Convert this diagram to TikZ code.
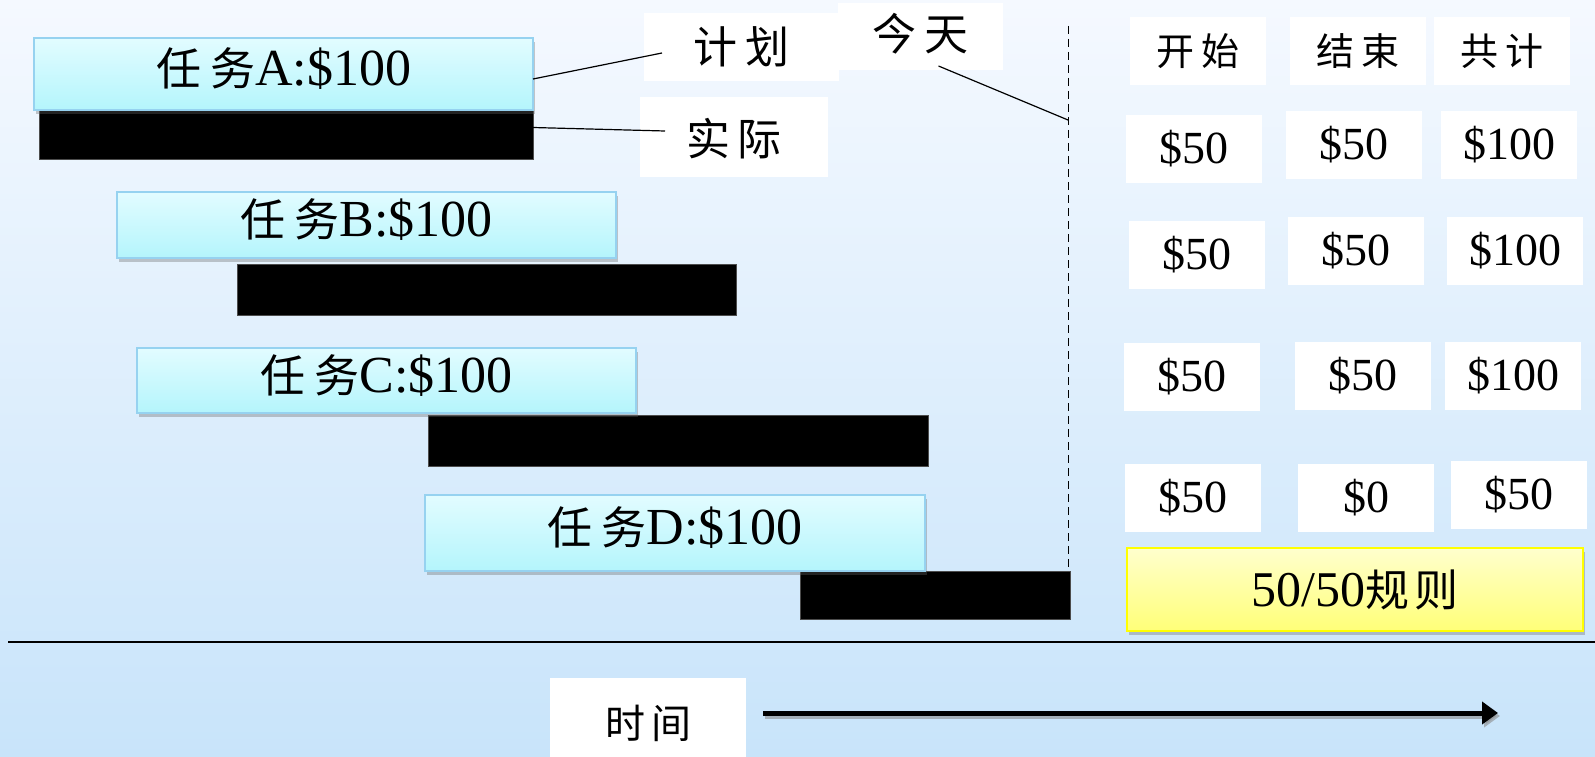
\documentclass[tikz,border=0pt]{standalone}
\usepackage{fontspec}
\setmainfont{Liberation Serif}
\newfontfamily\cjk{Noto Sans CJK SC}
\usetikzlibrary{shadows,arrows.meta}
\definecolor{bgtop}{RGB}{245,249,255}
\definecolor{bgbot}{RGB}{200,228,250}
\definecolor{tasktop}{RGB}{226,252,255}
\definecolor{taskbot}{RGB}{180,245,252}
\definecolor{taskborder}{RGB}{150,210,240}
\definecolor{yeltop}{RGB}{255,255,205}
\definecolor{yelbot}{RGB}{255,255,120}
\definecolor{yelborder}{RGB}{255,255,0}
\newcommand{\rw}{{\cjk\fontsize{45}{50}\selectfont 任\hspace{9pt}务}}
\tikzset{
  myshadow/.style={drop shadow={opacity=0.35,shadow xshift=2pt,shadow yshift=-4pt,fill=black!60}},
  taskbox/.style={draw=taskborder,line width=1.5pt,top color=tasktop,bottom color=taskbot,
    anchor=north west,inner sep=0pt,outer sep=0pt,minimum width=499pt,myshadow,
    text height=36pt,text depth=13pt,
    font=\fontsize{52}{60}\selectfont},
  actbar/.style={fill=black,draw=black!70,line width=0.6pt,anchor=north west,inner sep=0pt,outer sep=0pt,
    minimum height=49pt},
  whitelabel/.style={fill=white,anchor=north west,inner sep=0pt,outer sep=0pt,
    font=\cjk\fontsize{44}{50}\selectfont},
  hdr/.style={fill=white,anchor=north west,inner sep=0pt,outer sep=0pt,minimum width=136pt,minimum height=68pt,
    font=\cjk\fontsize{38}{44}\selectfont},
  cell/.style={fill=white,anchor=north west,inner sep=0pt,outer sep=0pt,minimum width=136pt,minimum height=68pt,
    font=\fontsize{46}{52}\selectfont},
  rulebox/.style={draw=yelborder,line width=2pt,top color=yeltop,bottom color=yelbot,anchor=north west,
    inner sep=0pt,outer sep=0pt,minimum width=456pt,minimum height=83pt,myshadow,
    font=\fontsize{50}{56}\selectfont},
  conn/.style={line width=1.2pt,black},
}
\begin{document}
\begin{tikzpicture}[x=1pt,y=-1pt]
\useasboundingbox (0,0) rectangle (1595,757);
\shade[top color=bgtop,bottom color=bgbot] (0,0) rectangle (1595,757);

% actual bars
\node[actbar,minimum width=494pt] (bA) at (39,110) {};
\node[actbar,minimum width=499pt,minimum height=51pt] (bB) at (237,264) {};
\node[actbar,minimum width=500pt,minimum height=51pt] (bC) at (428,415) {};
\node[actbar,minimum width=270pt,minimum height=48pt] (bD) at (800,571) {};

% planned tasks
\node[taskbox,minimum height=72pt] (tA) at (34,38) {\rw A:\$100};
\node[taskbox,minimum height=66pt] (tB) at (117,192) {\rw B:\$100};
\node[taskbox,minimum height=65pt] (tC) at (137,348) {\rw C:\$100};
\node[taskbox,minimum height=76pt,minimum width=500pt] (tD) at (425,495) {\rw D:\$100};

% labels
\node[whitelabel,minimum width=195pt,minimum height=68pt] (jh) at (644,13) {计\hspace{8pt}划};
\node[whitelabel,minimum width=188pt,minimum height=80pt,text height=40pt,text depth=4pt] (sj) at (640,97) {实\hspace{8pt}际};
\node[whitelabel,minimum width=165pt,minimum height=67pt,text depth=10pt] (jt) at (838,3) {今\hspace{8pt}天};

% today dashed line
\coordinate (dtop) at (1068,26);
\coordinate (dbot) at (1068,615);
\coordinate (dmid) at (1068,120);
\draw[line width=1pt,dash pattern=on 8pt off 5pt] (dtop) -- (dbot);

% connectors
\draw[conn] ([yshift=-5pt]tA.east) -- ([xshift=18pt,yshift=-6pt]jh.west);
\draw[conn] ([yshift=7pt]bA.east) -- ([xshift=25pt,yshift=6pt]sj.west);
\draw[conn] ([xshift=18pt,yshift=4pt]jt.south) -- (dmid);

% table headers
\node[hdr] (h1) at (1130,17) {开\hspace{7pt}始};
\node[hdr] (h2) at (1290,17) {结\hspace{7pt}束};
\node[hdr] (h3) at (1434,17) {共\hspace{7pt}计};

% rows
\node[cell] (r11) at (1126,115) {\$50};
\node[cell] (r12) at (1286,111) {\$50};
\node[cell] (r13) at (1441,111) {\$100};
\node[cell] (r21) at (1129,221) {\$50};
\node[cell] (r22) at (1288,217) {\$50};
\node[cell] (r23) at (1447,217) {\$100};
\node[cell] (r31) at (1124,343) {\$50};
\node[cell] (r32) at (1295,342) {\$50};
\node[cell] (r33) at (1445,342) {\$100};
\node[cell] (r41) at (1125,464) {\$50};
\node[cell] (r42) at (1298,464) {\$0};
\node[cell] (r43) at (1451,461) {\$50};

% rule box
\node[rulebox] (rule) at (1127,548) {50/50{\cjk\fontsize{44}{50}\selectfont 规\hspace{5pt}则}};

% separator
\coordinate (hl1) at (8,642);
\coordinate (hl2) at (1595,642);
\draw[line width=1.5pt] (hl1) -- (hl2);

% time axis
\node[whitelabel,minimum width=196pt,minimum height=79pt,text height=46pt,text depth=4pt,
  font=\cjk\fontsize{40}{46}\selectfont] (sjn) at (550,678) {时\hspace{6pt}间};
\coordinate (a1) at (763,713);
\coordinate (a2) at (1498,713);
\draw[line width=5pt,black!45,opacity=0.6,-{Triangle[length=16pt,width=22pt]}] ([shift={(2pt,-3pt)}]a1) -- ([shift={(2pt,-3pt)}]a2);
\draw[line width=5pt,-{Triangle[length=16pt,width=22pt]}] (a1) -- (a2);
\end{tikzpicture}
\end{document}
